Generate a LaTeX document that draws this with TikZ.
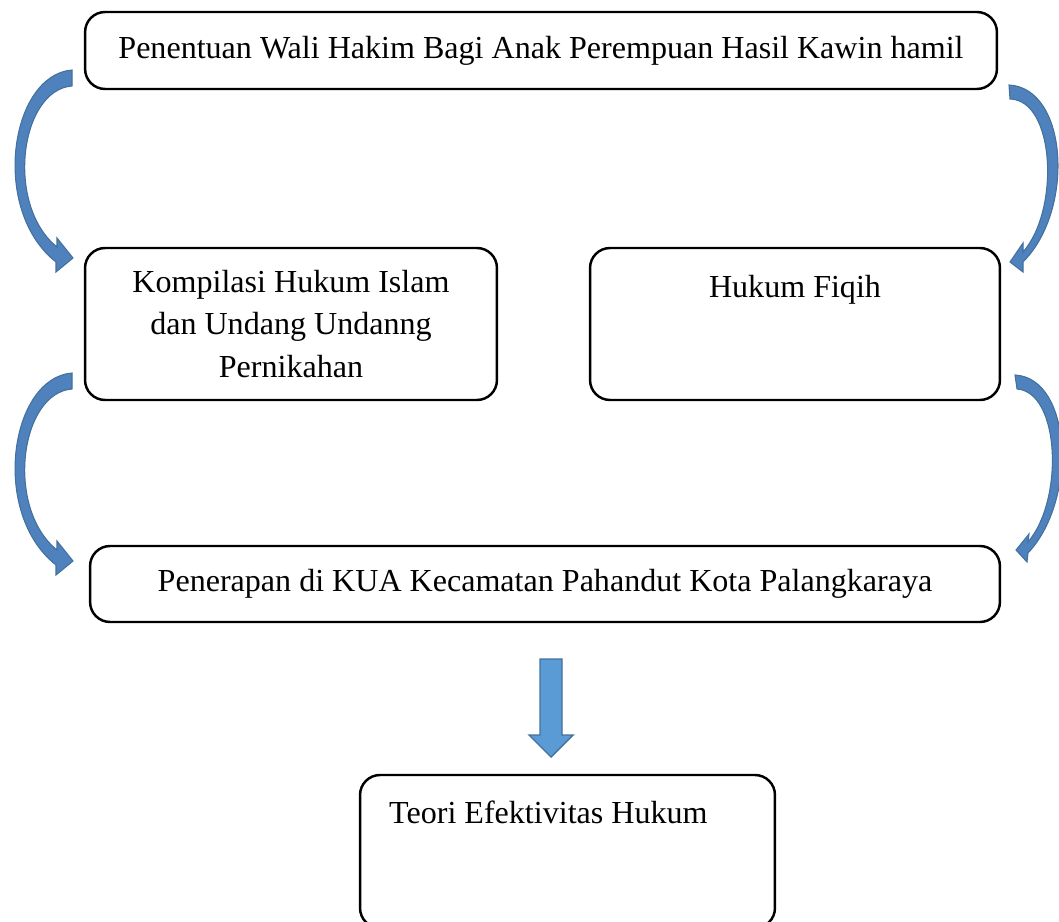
\documentclass[tikz,border=0pt]{standalone}
\usepackage{fontspec}
\setmainfont{Liberation Serif}
\definecolor{arrowblue}{RGB}{79,129,189}
\definecolor{arrowlight}{RGB}{91,155,213}
\definecolor{arrowedge}{RGB}{65,113,156}
\begin{document}
\begin{tikzpicture}
          [x=0.02cm,y=-0.02cm,line width=1.4pt,
           every node/.style={font=\fontsize{18.25}{24}\selectfont, align=center, inner sep=0pt},
           box/.style={draw, rounded corners=0.4cm},
           bluearrow/.style={fill=arrowblue, draw=arrowedge, line width=0.6pt}]
        \clip (0,0) rectangle (1059,922);

        \node[box, minimum width=18.24cm, minimum height=1.54cm] (n1) at (541,50.5) {Penentuan Wali Hakim Bagi Anak Perempuan Hasil Kawin hamil};
        \node[box, minimum width=8.24cm, minimum height=3.04cm] (n2) at (291,324) {Kompilasi Hukum Islam\\dan Undang Undanng\\Pernikahan};
        \node[box, minimum width=8.2cm, minimum height=3.04cm] (n3) at (795,324) {};
        \node[box, minimum width=18.2cm, minimum height=1.52cm] (n4) at (545,584) {Penerapan di KUA Kecamatan Pahandut Kota Palangkaraya};
        \node[box, minimum width=8.3cm, minimum height=3.06cm] (n5) at (567.5,851.5) {};

        \node[anchor=base] (n6) at (795,298) {Hukum Fiqih};
        \node[anchor=base west] (n7) at (388,823) {Teori Efektivitas Hukum};

        \foreach \dy in {0,303}
          \draw[bluearrow, shift={(0,\dy)}] (72,70) .. controls (10,75) and (-10,210) .. (56,262) -- (56,272) -- (73,258) -- (57,238) -- (57,247) .. controls (5,205) and (20,90) .. (72,86) -- cycle;

        \draw[bluearrow] (1009,85) .. controls (1068,88) and (1075,210) .. (1023,262) -- (1023,272) -- (1010,262) -- (1023,243) -- (1023,252) .. controls (1060,210) and (1055,100) .. (1010,99) -- cycle;
        \draw[bluearrow] (1015,375) .. controls (1072,378) and (1078,500) .. (1028,553) -- (1027,562) -- (1016,550) -- (1029,534) -- (1028,542) .. controls (1064,500) and (1060,392) .. (1017,389) -- cycle;

        \draw[fill=arrowlight, draw=arrowedge, line width=0.8pt] (540,659) -- (562,659) -- (562,735) -- (573,735) -- (551,757) -- (529,735) -- (540,735) -- cycle;
      \end{tikzpicture}
\end{document}
